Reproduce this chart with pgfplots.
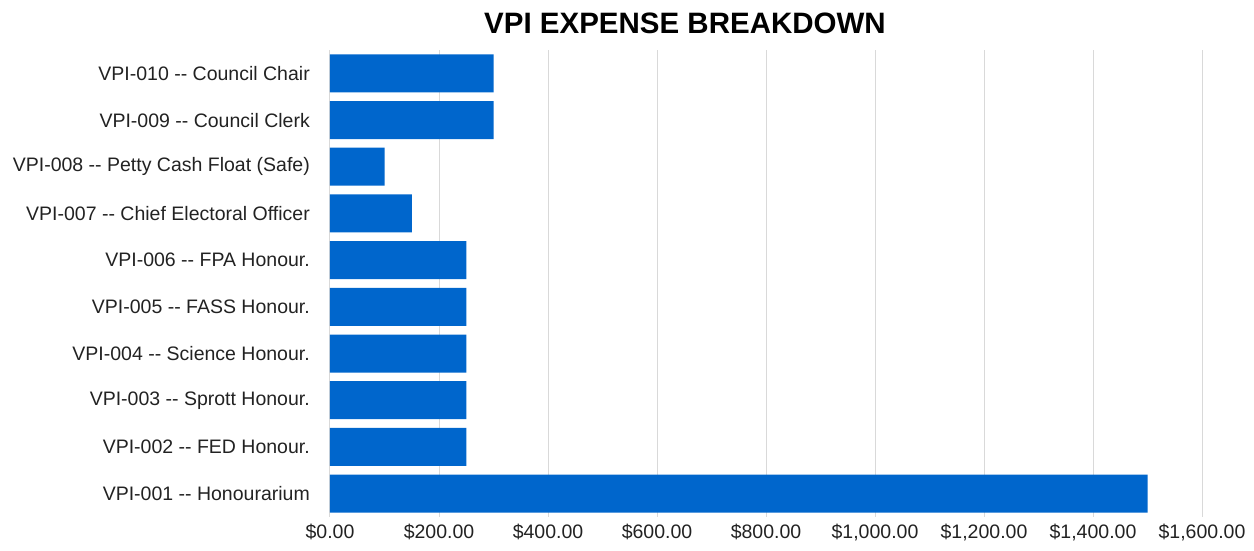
\documentclass[border=0pt]{standalone}
\usepackage{fontspec}
\setmainfont{Liberation Sans}
\usepackage{pgfplots}
\pgfplotsset{compat=1.18}
\definecolor{barblue}{HTML}{0066CC}
\definecolor{gridgray}{HTML}{D9D9D9}
\definecolor{txt}{HTML}{222222}
\begin{document}
\fontsize{19.5}{23}\selectfont
\begin{tikzpicture}
\useasboundingbox (0,0) rectangle (1254pt,551pt);
\begin{axis}[
  at={(330pt,34pt)}, anchor=south west,
  scale only axis, width=872pt, height=467pt,
  xbar, bar width=38pt,
  xmin=0, xmax=1600, ymin=-0.5, ymax=9.5,
  xtick={0,200,400,600,800,1000,1200,1400,1600},
  xticklabels={{\$0.00},{\$200.00},{\$400.00},{\$600.00},{\$800.00},{\$1,000.00},{\$1,200.00},{\$1,400.00},{\$1,600.00}},
  ytick={0,1,2,3,4,5,6,7,8,9},
  yticklabels={VPI-001 -{}- Honourarium,VPI-002 -{}- FED Honour.,VPI-003 -{}- Sprott Honour.,VPI-004 -{}- Science Honour.,VPI-005 -{}- FASS Honour.,VPI-006 -{}- FPA Honour.,VPI-007 -{}- Chief Electoral Officer,VPI-008 -{}- Petty Cash Float (Safe),VPI-009 -{}- Council Clerk,VPI-010 -{}- Council Chair},
  axis line style={draw=none},
  major tick length=0pt,
  xmajorgrids, ymajorgrids=false,
  major grid style={gridgray, line width=1pt},
  every tick label/.append style={font=\fontsize{19.5}{23}\selectfont, text=txt},
  yticklabel style={inner sep=0pt, xshift=-20pt},
  xticklabel style={inner sep=0pt, yshift=-7pt},
  axis on top=false,
]
\addplot[fill=barblue, draw=none] coordinates {
  (1500,0) (250,1) (250,2) (250,3) (250,4) (250,5) (150,6) (100,7) (300,8) (300,9)
};
\end{axis}
\node[anchor=base, text=black, font=\bfseries\fontsize{29.5}{35}\selectfont] at (685pt,517.7pt) {VPI EXPENSE BREAKDOWN};
\end{tikzpicture}
\end{document}
